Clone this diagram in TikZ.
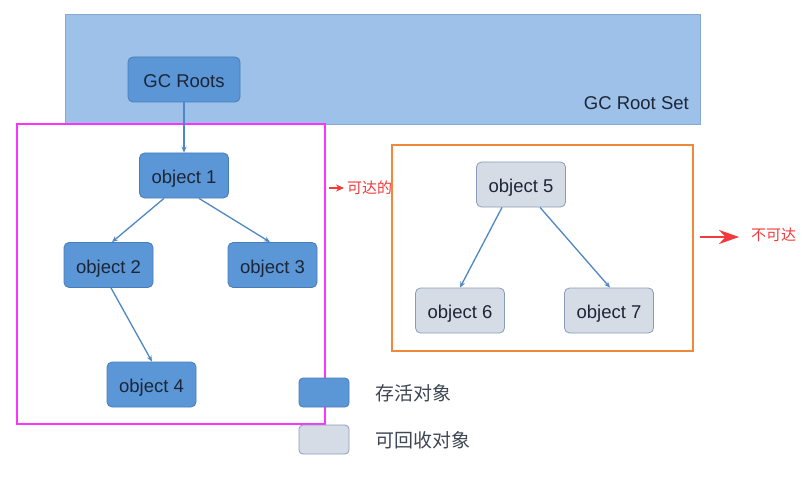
\documentclass[tikz,border=0pt]{standalone}
\usepackage{fontspec}
\setmainfont{Liberation Sans}
\newfontfamily\cjk{Noto Sans CJK SC}
\usetikzlibrary{arrows.meta}
\definecolor{setfill}{HTML}{9DC1E8}
\definecolor{setdraw}{HTML}{86A9D4}
\definecolor{livefill}{HTML}{5B96D6}
\definecolor{livedraw}{HTML}{4A7DB8}
\definecolor{deadfill}{HTML}{D6DCE6}
\definecolor{deaddraw}{HTML}{8A9DB8}
\definecolor{txt}{HTML}{1C2636}
\definecolor{magentabox}{HTML}{FF33FF}
\definecolor{orangebox}{HTML}{F0883A}
\definecolor{redarrow}{HTML}{F23A3A}
\definecolor{edge}{HTML}{4F86C6}
\tikzset{
  objbox/.style={draw=#1draw, fill=#1fill, line width=0.8pt, rounded corners=5pt,
    minimum width=89pt, minimum height=45pt, text=txt, font=\fontsize{18.5}{22}\selectfont,
    inner sep=0pt, text height=16.5pt, text depth=0pt},
  link/.style={edge, line width=1.3pt, -{Stealth[length=6pt,width=5pt]}},
  legendbox/.style={draw=#1draw, fill=#1fill, line width=0.8pt, rounded corners=4pt,
    minimum width=50pt, minimum height=29pt, inner sep=0pt},
  legendtxt/.style={text=txt!85, font=\cjk\fontsize{19}{22}\selectfont, anchor=west, inner sep=0pt},
  redtxt/.style={text=redarrow, font=\cjk\fontsize{15}{18}\selectfont, anchor=west, inner sep=0pt},
}
\begin{document}
\begin{tikzpicture}[x=1pt,y=-1pt]
\useasboundingbox (0,0) rectangle (810,481);
\fill[white] (0,0) rectangle (810,481);
% GC Root Set
\node[draw=setdraw, fill=setfill, line width=1pt, minimum width=635pt, minimum height=110pt, anchor=north west, inner sep=0pt] (rootset) at (65,14) {};
\node[text=txt, font=\fontsize{18.5}{22}\selectfont, anchor=base east, inner sep=0pt] (rootsetlbl) at (689,110) {GC Root Set};
\node[objbox=live, minimum width=112pt] (roots) at (184,79.5) {GC Roots};
% groups
\node[draw=magentabox, line width=2pt, minimum width=308pt, minimum height=300pt, anchor=north west, inner sep=0pt] (reach) at (16,123) {};
\node[draw=orangebox, line width=2pt, minimum width=301pt, minimum height=206pt, anchor=north west, inner sep=0pt] (unreach) at (391,144) {};
% objects
\node[objbox=live] (o1) at (184,175.5) {object 1};
\node[objbox=live] (o2) at (108.5,265) {object 2};
\node[objbox=live] (o3) at (272.5,265) {object 3};
\node[objbox=live] (o4) at (151.5,384.5) {object 4};
\node[objbox=dead] (o5) at (521,184.5) {object 5};
\node[objbox=dead] (o6) at (460,310.5) {object 6};
\node[objbox=dead] (o7) at (609,310.5) {object 7};
% edges
\draw[link] (roots.south) -- (o1.north);
\draw[link] ([xshift=-20pt]o1.south) -- ([xshift=3.5pt]o2.north);
\draw[link] ([xshift=15pt]o1.south) -- ([xshift=-2.5pt]o3.north);
\draw[link] ([xshift=2.5pt]o2.south) -- ([xshift=0.5pt]o4.north);
\draw[link] ([xshift=-19pt]o5.south) -- (o6.north);
\draw[link] ([xshift=19pt]o5.south) -- ([xshift=1pt]o7.north);
% legend
\node[legendbox=live] (leglive) at (324,392.5) {};
\node[legendbox=dead] (legdead) at (324,439.5) {};
\node[legendtxt] (leglivetxt) at (375,393.5) {存活对象};
\node[legendtxt] (legdeadtxt) at (375,440.5) {可回收对象};
% red annotations
\coordinate (ra1) at (329,188);
\coordinate (ra2) at (344,188);
\draw[redarrow, line width=1.4pt, -{Stealth[length=8pt,width=7pt]}] (ra1) -- (ra2);
\node[redtxt] (reachtxt) at (347,187.5) {可达的};
\coordinate (ua1) at (700,237);
\coordinate (ua2) at (739,237);
\draw[redarrow, line width=2.8pt, -{Stealth[length=20pt,width=14pt]}] (ua1) -- (ua2);
\node[redtxt] (unreachtxt) at (751,234.5) {不可达};
\end{tikzpicture}
\end{document}
